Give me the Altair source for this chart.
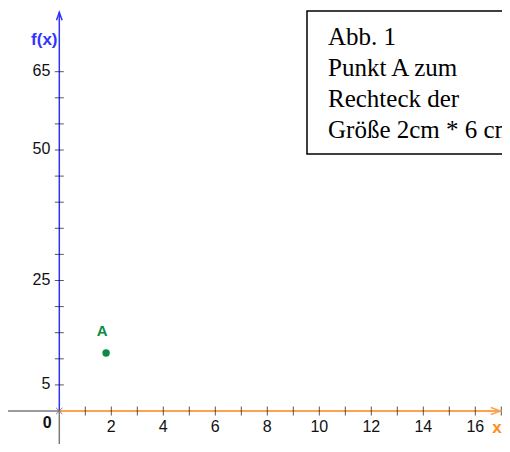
import altair as alt
import pandas as pd

# ---- data ----
x_tick_values = list(range(1, 18))
y_tick_values = list(range(5, 70, 5))
x_label_values = [2, 4, 6, 8, 10, 12, 14, 16]
y_label_values = [65, 50, 25, 5]
point_name = ["A"]
point_x = [1.8]
point_y = [11.1]
x_axis_start, x_axis_end = -1.97, 16.98
y_axis_start, y_axis_end = -6.4, 76.4
fx_label_y = 71.1
box_lines = ["Abb. 1", "Punkt A zum", "Rechteck der", "Größe 2cm * 6 cm"]

W, H = 494, 436
xs = alt.Scale(domain=[-1.973, 17.027], nice=False, zero=False)
ys = alt.Scale(domain=[-6.32, 77.2], nice=False, zero=False)
X = lambda f: alt.X(f, type="quantitative", scale=xs, axis=None)
Y = lambda f: alt.Y(f, type="quantitative", scale=ys, axis=None)

BLUE = "#3333ff"
ORANGE = "#ffa24d"
GRAY = "#7a7a7a"
GREEN = "#0a8a45"
INK = "#111111"

one = pd.DataFrame({"x0": [0.0], "y0": [0.0]})

xneg = alt.Chart(pd.DataFrame({"a": [x_axis_start], "b": [0.0], "y": [0.0]})).mark_rule(
    color=GRAY, strokeWidth=1.5).encode(x=X("a"), x2="b", y=Y("y"))
xpos = alt.Chart(pd.DataFrame({"a": [0.0], "b": [x_axis_end], "y": [0.0]})).mark_rule(
    color=ORANGE, strokeWidth=2).encode(x=X("a"), x2="b", y=Y("y"))
yneg = alt.Chart(pd.DataFrame({"a": [y_axis_start], "b": [0.0], "x": [0.0]})).mark_rule(
    color=GRAY, strokeWidth=1.5).encode(y=Y("a"), y2="b", x=X("x"))
ypos = alt.Chart(pd.DataFrame({"a": [0.0], "b": [y_axis_end], "x": [0.0]})).mark_rule(
    color=BLUE, strokeWidth=1.5).encode(y=Y("a"), y2="b", x=X("x"))

xt = alt.Chart(pd.DataFrame({"x": x_tick_values, "y": [0.0] * len(x_tick_values)})).mark_tick(
    orient="vertical", size=9, thickness=1, color=INK).encode(x=X("x"), y=Y("y"))
yt = alt.Chart(pd.DataFrame({"y": y_tick_values, "x": [0.0] * len(y_tick_values)})).mark_tick(
    orient="horizontal", size=9, thickness=1, color=INK).encode(x=X("x"), y=Y("y"))

xarrow = alt.Chart(pd.DataFrame({"x": [x_axis_end], "y": [0.0]})).mark_point(
    shape="M-1,-0.35L0,0L-1,0.35", size=400, filled=False, stroke=ORANGE, strokeWidth=1.5,
    opacity=1).encode(x=X("x"), y=Y("y"))
yarrow = alt.Chart(pd.DataFrame({"x": [0.0], "y": [y_axis_end]})).mark_point(
    shape="M-0.35,1L0,0L0.35,1", size=256, filled=False, stroke=BLUE, strokeWidth=1.5,
    opacity=1).encode(x=X("x"), y=Y("y"))
origin = alt.Chart(one).mark_point(
    shape="M-1,-1L1,1M-1,1L1,-1", size=40, filled=False, stroke=GRAY, strokeWidth=1,
    opacity=1).encode(x=X("x0"), y=Y("y0"))

xl = alt.Chart(pd.DataFrame({"x": x_label_values, "y": [0.0] * len(x_label_values),
                             "t": [str(v) for v in x_label_values]})).mark_text(
    font="Liberation Sans", fontSize=16, color=INK, baseline="middle", dy=16).encode(
    x=X("x"), y=Y("y"), text="t:N")
yl = alt.Chart(pd.DataFrame({"y": y_label_values, "x": [0.0] * len(y_label_values),
                             "t": [str(v) for v in y_label_values]})).mark_text(
    font="Liberation Sans", fontSize=16, color=INK, align="right", baseline="middle",
    dx=-9, dy=-1).encode(x=X("x"), y=Y("y"), text="t:N")
zl = alt.Chart(pd.DataFrame({"x": [0.0], "y": [0.0], "t": ["0"]})).mark_text(
    font="Liberation Sans", fontSize=16, fontWeight="bold", color=INK, baseline="middle",
    dx=-12, dy=12).encode(x=X("x"), y=Y("y"), text="t:N")
fxl = alt.Chart(pd.DataFrame({"x": [0.0], "y": [fx_label_y], "t": ["f(x)"]})).mark_text(
    font="Liberation Sans", fontSize=17, fontWeight="bold", color=BLUE, baseline="middle",
    dx=-15).encode(x=X("x"), y=Y("y"), text="t:N")
xname = alt.Chart(pd.DataFrame({"x": [x_axis_end], "y": [0.0], "t": ["x"]})).mark_text(
    font="Liberation Sans", fontSize=17, fontWeight="bold", color="#ff8c1a", baseline="middle",
    align="right", dx=1, dy=17).encode(x=X("x"), y=Y("y"), text="t:N")

pts = pd.DataFrame({"x": point_x, "y": point_y, "name": point_name})
pA = alt.Chart(pts).mark_circle(size=55, color=GREEN, opacity=1).encode(x=X("x"), y=Y("y"))
pAl = alt.Chart(pts).mark_text(
    font="Liberation Sans", fontSize=15, fontWeight="bold", color=GREEN, baseline="middle",
    dx=-4, dy=-22).encode(x=X("x"), y=Y("y"), text="name:N")

box = alt.Chart(one).mark_rect(fill="white", stroke="black", strokeWidth=1.5).encode(
    x=alt.value(299), x2=alt.value(520), y=alt.value(3), y2=alt.value(146))
boxtext = alt.Chart(pd.DataFrame({"t": [box_lines]})).mark_text(
    font="Liberation Serif", fontSize=25, color="black", align="left", baseline="alphabetic",
    lineHeight=31).encode(x=alt.value(320), y=alt.value(37), text="t")

chart = alt.layer(
    xneg, xpos, yneg, ypos, xt, yt, xarrow, yarrow, origin,
    xl, yl, zl, fxl, xname, pA, pAl, box, boxtext
).properties(
    width=W, height=H, autosize=alt.AutoSizeParams(type="none"), padding=0
).configure_view(stroke=None)

chart.save("out.html", embed_options={"renderer": "svg", "actions": False})
